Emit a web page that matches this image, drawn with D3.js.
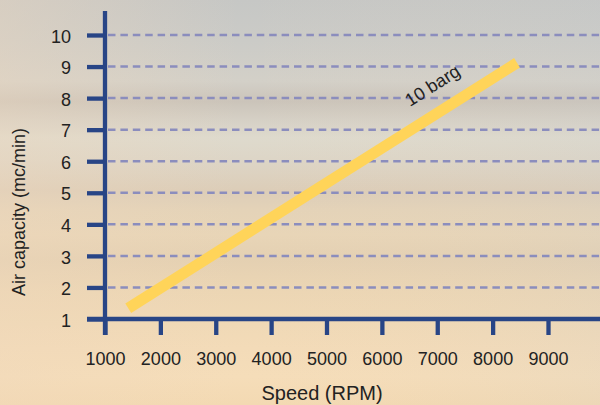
<!DOCTYPE html>
<html>
<head>
<meta charset="utf-8">
<script src="https://cdn.jsdelivr.net/npm/d3@7"></script>
<style>
  html, body { margin: 0; padding: 0; background: #e8d8c0; }
  svg { display: block; }
  text { font-family: "Liberation Sans", Arial, Helvetica, sans-serif; fill: #222; }
</style>
</head>
<body>
<svg id="chart" width="600" height="405"></svg>
<script>
// ---- data ----
const xTicks = [1000, 2000, 3000, 4000, 5000, 6000, 7000, 8000, 9000];
const yTicks = [1, 2, 3, 4, 5, 6, 7, 8, 9, 10];
const speed = [1420, 8440];          // RPM
const capacity = [1.34, 9.12];       // mc/min
const seriesLabel = "10 barg";
const xTitle = "Speed (RPM)";
const yTitle = "Air capacity (mc/min)";

// ---- setup ----
const W = 600, H = 405;
const svg = d3.select("#chart");
const navy = "#284586";
const gridColor = "#8b8dbd";
const lineColor = "#ffd459";

const x = d3.scaleLinear().domain([1000, 9000]).range([105, 548]);
const y = d3.scaleLinear().domain([1, 10]).range([319, 35]);

// background gradient
const defs = svg.append("defs");
const bg = defs.append("linearGradient").attr("id", "bg")
  .attr("x1", 0).attr("y1", 0).attr("x2", 0).attr("y2", 1);
[
  [0.00, "#c6c7c5"], [0.10, "#cbcbc7"], [0.20, "#d3d0c8"], [0.25, "#cbc4ba"],
  [0.30, "#d6d1c6"], [0.34, "#dedacd"], [0.40, "#ddd5c6"], [0.47, "#dccdb8"],
  [0.52, "#e4d3b8"], [0.58, "#e8d5b7"], [0.64, "#e4d0b2"], [0.72, "#ecd6b4"],
  [0.80, "#f0d9b6"], [0.86, "#f3dbb8"], [0.93, "#f5ddb9"], [1.00, "#f3d9b2"]
].forEach(([o, c]) => bg.append("stop").attr("offset", o).attr("stop-color", c));
const side = defs.append("linearGradient").attr("id", "side")
  .attr("x1", 0).attr("y1", 0).attr("x2", 1).attr("y2", 0);
side.append("stop").attr("offset", 0).attr("stop-color", "#f0d8bc").attr("stop-opacity", 0.4);
side.append("stop").attr("offset", 0.4).attr("stop-color", "#f0d8bc").attr("stop-opacity", 0.0);
side.append("stop").attr("offset", 1).attr("stop-color", "#c8ccd0").attr("stop-opacity", 0.15);

svg.append("rect").attr("width", W).attr("height", H).attr("fill", "url(#bg)");
svg.append("rect").attr("width", W).attr("height", H).attr("fill", "url(#side)");

// gridlines
svg.append("g").selectAll("line")
  .data(yTicks.filter(d => d > 1))
  .join("line")
  .attr("x1", x(1000) + 3).attr("x2", W)
  .attr("y1", d => y(d)).attr("y2", d => y(d))
  .attr("stroke", gridColor).attr("stroke-width", 2.5)
  .attr("stroke-dasharray", "7.5,4.9");

// y axis
const yAxis = d3.axisLeft(y).tickValues(yTicks).tickSize(18).tickPadding(16)
  .tickFormat(d3.format("d"));
const gy = svg.append("g").attr("transform", `translate(${x(1000)},0)`).call(yAxis);
gy.select(".domain").remove();
gy.selectAll(".tick line").attr("stroke", navy).attr("stroke-width", 4.3);
gy.selectAll(".tick text").attr("font-size", 18).attr("fill", "#1e1e1e")
  .attr("font-family", "Liberation Sans, Arial, sans-serif").attr("dy", "0.4em");

// x axis
const xAxis = d3.axisBottom(x).tickValues(xTicks).tickSize(16).tickPadding(15)
  .tickFormat(d3.format("d"));
const gx = svg.append("g").attr("transform", `translate(0,${y(1)})`).call(xAxis);
gx.select(".domain").remove();
gx.selectAll(".tick line").attr("stroke", navy).attr("stroke-width", 4.3);
gx.selectAll(".tick text").attr("font-size", 18).attr("fill", "#1e1e1e")
  .attr("font-family", "Liberation Sans, Arial, sans-serif").attr("dy", "0.85em");

// axis lines
svg.append("line").attr("x1", x(1000)).attr("x2", x(1000))
  .attr("y1", 11).attr("y2", y(1) + 16)
  .attr("stroke", navy).attr("stroke-width", 4.3);
svg.append("line").attr("x1", x(1000) - 18).attr("x2", W)
  .attr("y1", y(1)).attr("y2", y(1))
  .attr("stroke", navy).attr("stroke-width", 4.5);

// series line
const pts = speed.map((s, i) => [x(s), y(capacity[i])]);
svg.append("path")
  .attr("d", d3.line()(pts))
  .attr("fill", "none").attr("stroke", lineColor)
  .attr("stroke-width", 11).attr("stroke-linecap", "butt");

// series label
const ang = Math.atan2(pts[1][1] - pts[0][1], pts[1][0] - pts[0][0]);
const t = 0.818;
const lx = pts[0][0] + t * (pts[1][0] - pts[0][0]);
const ly = pts[0][1] + t * (pts[1][1] - pts[0][1]);
const off = 26;
const cx = lx + off * Math.sin(ang);
const cy = ly - off * Math.cos(ang);
svg.append("text")
  .attr("transform", `translate(${cx},${cy}) rotate(${ang * 180 / Math.PI})`)
  .attr("text-anchor", "middle").attr("dy", "0.35em")
  .attr("font-size", 18).text(seriesLabel);

// axis titles
svg.append("text").attr("x", 322).attr("y", 400)
  .attr("text-anchor", "middle").attr("font-size", 20).text(xTitle);
svg.append("text")
  .attr("transform", `translate(25,212) rotate(-90)`)
  .attr("text-anchor", "middle").attr("font-size", 18).text(yTitle);
</script>
</body>
</html>
